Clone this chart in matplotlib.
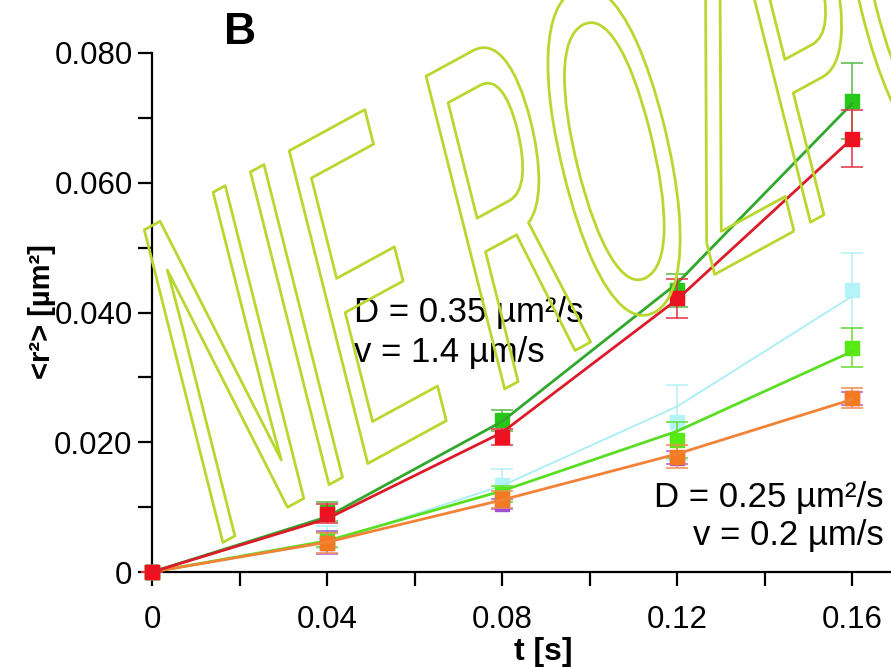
import matplotlib
matplotlib.use("Agg")
import matplotlib.pyplot as plt
import matplotlib.patheffects as pe
from matplotlib.transforms import Affine2D
from matplotlib.ticker import MultipleLocator

plt.rcParams['font.family'] = ['Liberation Sans', 'DejaVu Sans']

# ---------------- data ----------------
t = [0.0, 0.04, 0.08, 0.12, 0.16]

dkgreen_pts = [0.0, 0.0093, 0.0234, 0.0434, 0.0726]
dkgreen_err = [0.0, 0.0015, 0.0016, 0.0025, 0.0058]
dkgreen_fit = [0.0, 0.0085, 0.0232, 0.0445, 0.0722]

red_pts = [0.0, 0.0090, 0.0208, 0.0422, 0.0668]
red_err = [0.0, 0.0015, 0.0012, 0.0030, 0.0044]
red_fit = [0.0, 0.0082, 0.0215, 0.0420, 0.0668]

cyan_pts = [0.0, 0.0054, 0.0134, 0.0231, 0.0434]
cyan_err = [0.0, 0.0017, 0.0024, 0.0058, 0.0058]
cyan_fit = [0.0, 0.0045, 0.0133, 0.0255, 0.0425]

ltgreen_pts = [0.0, 0.0050, 0.0120, 0.0203, 0.0346]
ltgreen_err = [0.0, 0.0012, 0.0012, 0.0028, 0.0030]
ltgreen_fit = [0.0, 0.0048, 0.0125, 0.0217, 0.0340]

purple_pts = [0.0, 0.0045, 0.0105, 0.0176, 0.0268]
purple_err = [0.0, 0.0018, 0.0008, 0.0010, 0.0010]

orange_pts = [0.0, 0.0045, 0.0112, 0.0178, 0.0268]
orange_err = [0.0, 0.0015, 0.0013, 0.0017, 0.0015]
orange_fit = [0.0, 0.0046, 0.0111, 0.0182, 0.0266]

xticks = [0.0, 0.04, 0.08, 0.12, 0.16]
xticklabels = ['0', '0.04', '0.08', '0.12', '0.16']
yticks = [0.0, 0.02, 0.04, 0.06, 0.08]
yticklabels = ['0', '0.020', '0.040', '0.060', '0.080']

annot_fast = 'D = 0.35 µm²/s'
annot_fast2 = 'v = 1.4 µm/s'
annot_slow = 'D = 0.25 µm²/s'
annot_slow2 = 'v = 0.2 µm/s'
watermark = 'NIE ROZPO'

# ---------------- figure ----------------
W, H = 891, 667
fig = plt.figure(figsize=(W / 100, H / 100), dpi=100)
fig.patch.set_facecolor('white')
ax = fig.add_axes([152 / W, 95 / H, 739 / W, 519 / H])
ax.set_xlim(0, 0.1689)
ax.set_ylim(0, 0.080)

for s in ['top', 'right']:
    ax.spines[s].set_visible(False)
for s in ['left', 'bottom']:
    ax.spines[s].set_linewidth(1.6)
    ax.spines[s].set_color('black')

series = [
    # pts, err, fit, marker colour, line colour, err colour, line width
    (cyan_pts, cyan_err, cyan_fit, '#b4f4f8', '#a9eef4', '#b4f0f4', 1.3),
    (ltgreen_pts, ltgreen_err, ltgreen_fit, '#55ea12', '#5ade22', '#66dd33', 2.0),
    (purple_pts, purple_err, None, '#a050d0', None, '#b060e0', 0),
    (orange_pts, orange_err, orange_fit, '#f47a22', '#f28236', '#f08c50', 2.0),
    (dkgreen_pts, dkgreen_err, dkgreen_fit, '#28c818', '#2fa82c', '#55bb44', 2.0),
    (red_pts, red_err, red_fit, '#f01020', '#dd1a28', '#e03040', 2.0),
]

z = 3
for pts, err, fit, mc, lc, ec, lw in series:
    if fit is not None:
        ax.plot(t, fit, color=lc, lw=lw, zorder=z + 1, clip_on=False,
                solid_joinstyle='round')
    cont = ax.errorbar(t, pts, yerr=err, fmt='s', ms=10, mfc=mc, mec=mc,
                       ecolor=ec, elinewidth=1.1, capsize=8, capthick=1.1,
                       zorder=z)
    for art in cont.get_children():
        art.set_clip_on(False)
    z += 2

ax.set_xticks(xticks)
ax.set_xticklabels(xticklabels)
ax.set_yticks(yticks)
ax.set_yticklabels(yticklabels)
ax.xaxis.set_minor_locator(MultipleLocator(0.02))
ax.yaxis.set_minor_locator(MultipleLocator(0.01))
ax.tick_params(axis='both', which='both', direction='out', length=10,
               width=1.6, colors='black')
ax.tick_params(axis='x', which='major', labelsize=22.5, pad=14)
ax.tick_params(axis='y', which='major', labelsize=22.5, pad=4)

ax.set_xlabel('t [s]', fontsize=23, fontweight='bold')
ax.xaxis.set_label_coords((543 - 152) / 739, (572 - 637) / 519)
ax.set_ylabel('<r²> [µm²]', fontsize=21, fontweight='bold')
ax.yaxis.set_label_coords((56 - 152) / 739, (572 - 312) / 519)

fig.text(224 / W, 1 - 44 / H, 'B', fontsize=32, fontweight='bold',
         ha='left', va='baseline')

fig.text(354 / W, 1 - 322 / H, annot_fast, fontsize=25, ha='left', va='baseline')
fig.text(354 / W, 1 - 362 / H, annot_fast2, fontsize=25, ha='left', va='baseline')
fig.text(884 / W, 1 - 507 / H, annot_slow, fontsize=25, ha='right', va='baseline')
fig.text(884 / W, 1 - 545 / H, annot_slow2, fontsize=25, ha='right', va='baseline')


# ---------------- watermark (stretched, outlined real text) ----------------
class StretchedStroke(pe.Stroke):
    def __init__(self, sy, skew, **kw):
        super().__init__(**kw)
        self._pre = Affine2D().scale(1, sy).skew_deg(skew, 0)

    def draw_path(self, renderer, gc, tpath, affine, rgbFace=None):
        super().draw_path(renderer, gc, tpath, self._pre + affine, None)


fig.text(211 / W, 1 - 549 / H, watermark, fontsize=118.8, color='#b8d830',
         rotation=28.6, rotation_mode='anchor', ha='left', va='baseline',
         zorder=10,
         path_effects=[StretchedStroke(2.75, 14.5, linewidth=2.0,
                                       foreground='#b8d830')])

fig.savefig('out.png', dpi=100)
